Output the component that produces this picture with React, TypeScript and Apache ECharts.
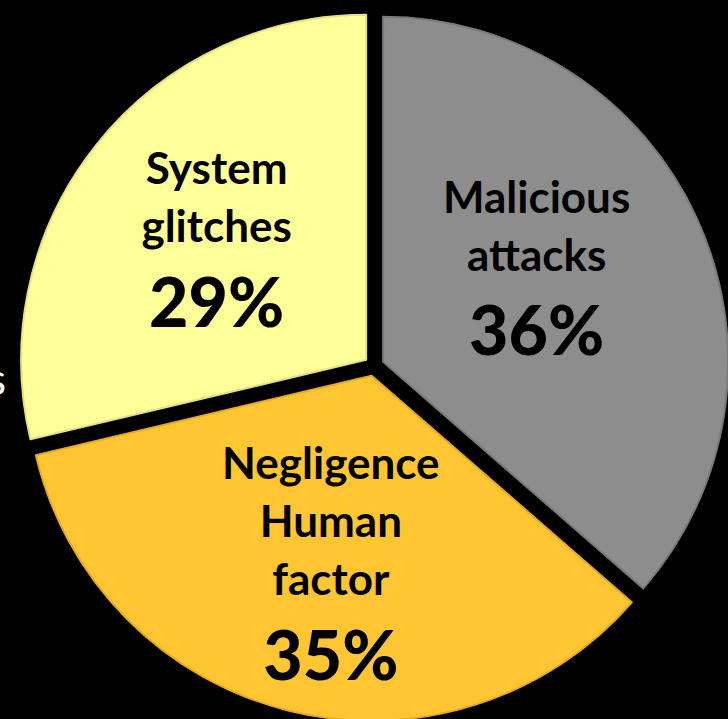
import React, { useEffect, useRef } from "react";
import * as echarts from "echarts";

const categories = ["Malicious\nattacks", "Negligence\nHuman\nfactor", "System\nglitches"];
const values = [36.4, 34.9, 28.7];
const colors = ["#8d8d8d", "#ffc634", "#ffff99"];
const edgeColors = ["#7a7a7a", "#e8ab22", "#e3e383"];
const labelDx = [-19, -3, 23];
const labelDy = [-32, 18, 15];

export default function App() {
  const ref = useRef<HTMLDivElement>(null);
  useEffect(() => {
    if (!ref.current) return;
    const chart = echarts.init(ref.current, undefined, { renderer: "svg" });
    const itemStyleFor = (i: number) => ({
      color: colors[i],
      borderColor: edgeColors[i],
      borderWidth: 2,
    });
    const labelCfg = {
      show: true,
      position: "inside",
      align: "center",
      formatter: (p: any) =>
        String(p.name)
          .split("\n")
          .map((s: string) => `{n|${s}}`)
          .join("\n") + `\n{p|${Math.round(p.percent)}%}`,
      rich: {
        n: {
          fontFamily: "Lato",
          fontWeight: "bold",
          fontSize: 44,
          lineHeight: 58,
          color: "#000",
          align: "center",
        },
        p: {
          fontFamily: "Lato",
          fontWeight: 900,
          fontSize: 68,
          lineHeight: 92,
          color: "#000",
          align: "center",
        },
      },
    };
    chart.setOption({
      animation: false,
      backgroundColor: "#000",
      graphic: [
        {
          type: "text",
          left: -13,
          top: 356,
          style: {
            text: "s",
            fill: "#fff",
            fontFamily: "Lato",
            fontSize: 44,
          },
        },
      ],
      series: [
        {
          type: "pie",
          center: [374, 366],
          radius: 345,
          startAngle: 90,
          clockwise: true,
          selectedMode: "multiple",
          selectedOffset: 10,
          avoidLabelOverlap: false,
          data: categories.map((name, i) => ({
            name,
            value: values[i],
            selected: true,
            itemStyle: itemStyleFor(i),
            select: { itemStyle: itemStyleFor(i) },
          })),
          label: labelCfg,
          select: { label: labelCfg },
          labelLine: { show: false },
          labelLayout: (params: any) => ({
            dx: labelDx[params.dataIndex],
            dy: labelDy[params.dataIndex],
          }),
          emphasis: { disabled: true },
        },
      ],
    });
    return () => chart.dispose();
  }, []);
  return (
    <div
      ref={ref}
      style={{ position: "fixed", left: 0, top: 0, width: 728, height: 719 }}
    />
  );
}
